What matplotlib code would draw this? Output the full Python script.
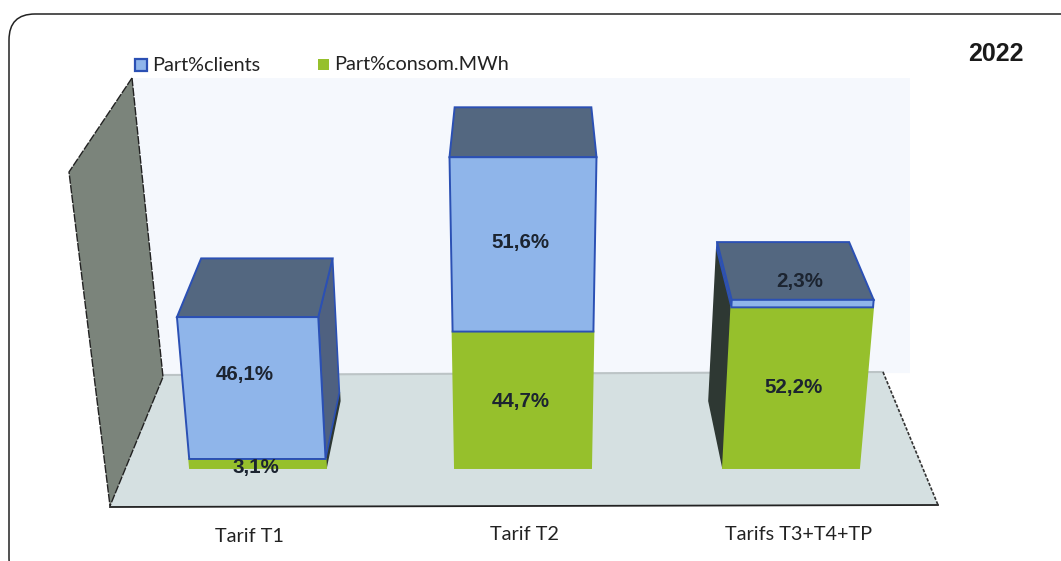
#share of clients and consumption per tariff, 2022
import matplotlib
matplotlib.use('Agg')
import matplotlib.pyplot as plt
from matplotlib.patches import FancyBboxPatch, Polygon, Rectangle

categories = ['Tarif T1', 'Tarif T2', 'Tarifs T3+T4+TP']
part_consom = [3.1, 44.7, 52.2]
part_clients = [46.1, 51.6, 2.3]
legend_labels = ['Part%clients', 'Part%consom.MWh']
year = '2022'

BLUE = '#8fb5ea'
BLUE_EDGE = '#2b50b4'
BLUE_SIDE = '#4f6180'
GREEN = '#96c02c'
GREEN_SIDE = '#2e3833'
TOP = '#536780'

# the picture is a fake 3d chart, so values go through a small perspective
mid_x = 523
bar_x = [258, 523, 791]
floor_y = 468


def height_px(v):
    return 2.9 * v + 0.0034 * v * v


def front(i, v):
    h = height_px(v)
    s = 1 + 0.00026 * h
    c = mid_x + (bar_x[i] - mid_x) * s
    return c - 68 * s, c + 68 * s, floor_y - h


def back(i, v):
    h = height_px(v)
    s = (1 + 0.00026 * h) * 0.93
    c = mid_x + (bar_x[i] - mid_x) * s
    return c - 68 * s, c + 68 * s, floor_y - h - (67 - 0.055 * h)


fig = plt.figure(figsize=(10.61, 5.61), dpi=100)
ax = fig.add_axes([0, 0, 1, 1])
ax.set_xlim(0, 1061)
ax.set_ylim(561, 0)
ax.axis('off')

# outer frame
ax.add_patch(FancyBboxPatch((9, 14), 1080, 570, boxstyle='round,pad=0,rounding_size=26',
                            fc='white', ec='#222222', lw=1.1))

# walls and floor
ax.add_patch(Polygon([(132, 78), (910, 78), (910, 373), (163, 376)], fc='#f5f8fd', ec='none'))
ax.add_patch(Polygon([(163, 375), (883, 372), (938, 505), (110, 507)], fc='#d5e0e1', ec='none'))
ax.plot([163, 883], [375, 372], color='#bcc4c6', lw=1.5, zorder=1)
ax.add_patch(Polygon([(132, 78), (69, 172), (110, 506), (163, 377)], fc='#7b847b', ec='none'))
ax.plot([132, 69, 110], [78, 172, 506], color='#222222', lw=1.0, ls=(0, (6, 1)), zorder=1)
ax.plot([132, 163, 110], [78, 377, 506], color='#222222', lw=1.0, ls=(0, (6, 1)), zorder=1)
ax.plot([110, 938], [507, 505], color='#222222', lw=1.3, zorder=1)
ax.plot([883, 938], [372, 505], color='#333333', lw=1.2, ls=(0, (2, 1)), zorder=1)

# bars
for i in range(len(categories)):
    segments = [(0, part_consom[i], GREEN, GREEN_SIDE, GREEN, GREEN_SIDE),
                (part_consom[i], part_consom[i] + part_clients[i], BLUE, BLUE_SIDE, BLUE_EDGE, BLUE_EDGE)]
    for v0, v1, face, side, edge, side_edge in segments:
        if i != 1:
            k = 1 if i == 0 else 0
            ax.add_patch(Polygon([(front(i, v0)[k], front(i, v0)[2]), (front(i, v1)[k], front(i, v1)[2]),
                                  (back(i, v1)[k], back(i, v1)[2]), (back(i, v0)[k], back(i, v0)[2])],
                                 fc=side, ec=side_edge, lw=1.2))
    total = part_consom[i] + part_clients[i]
    ax.add_patch(Polygon([front(i, total)[0::2], front(i, total)[1:],
                          back(i, total)[1:], back(i, total)[0::2]],
                         fc=TOP, ec=BLUE_EDGE, lw=1.4))
    for v0, v1, face, side, edge, side_edge in segments:
        ax.add_patch(Polygon([(front(i, v0)[0], front(i, v0)[2]), (front(i, v0)[1], front(i, v0)[2]),
                              (front(i, v1)[1], front(i, v1)[2]), (front(i, v1)[0], front(i, v1)[2])],
                             fc=face, ec=edge, lw=1.4))

# value labels, moved by hand like in the original
green_shift = [(-2, 4), (-2, 2), (3, 0)]
blue_shift = [(-13, -14), (-3, -2), (9, -22)]
for i in range(len(categories)):
    y0 = front(i, 0)[2]
    y1 = front(i, part_consom[i])[2]
    y2 = front(i, part_consom[i] + part_clients[i])[2]
    ax.text(bar_x[i] + green_shift[i][0], (y0 + y1) / 2 + green_shift[i][1],
            f'{part_consom[i]:.1f}%'.replace('.', ','), ha='center', va='center',
            family='Liberation Sans', weight='bold', fontsize=14.8, color='#1c2430')
    ax.text(bar_x[i] + blue_shift[i][0], (y1 + y2) / 2 + blue_shift[i][1],
            f'{part_clients[i]:.1f}%'.replace('.', ','), ha='center', va='center',
            family='Liberation Sans', weight='bold', fontsize=14.8, color='#1c2430')

# category labels
label_x = [249, 524, 799]
label_y = [536, 535, 534]
for i in range(len(categories)):
    ax.text(label_x[i], label_y[i], categories[i], ha='center', va='center',
            family='Lato', fontsize=14.3, color='#222222')

# legend
ax.add_patch(Rectangle((135, 59), 12, 12, fc=BLUE, ec=BLUE_EDGE, lw=1.6))
ax.text(152, 65, legend_labels[0], ha='left', va='center', family='Lato', fontsize=14.3, color='#222222')
ax.add_patch(Rectangle((318, 59), 11, 11, fc=GREEN, ec='none'))
ax.text(334, 64, legend_labels[1], ha='left', va='center', family='Lato', fontsize=14.3, color='#222222')

ax.text(996, 54, year, ha='center', va='center', family='Liberation Sans',
        weight='bold', fontsize=18, color='#1a1a1a')

fig.savefig('out.png', dpi=100)
